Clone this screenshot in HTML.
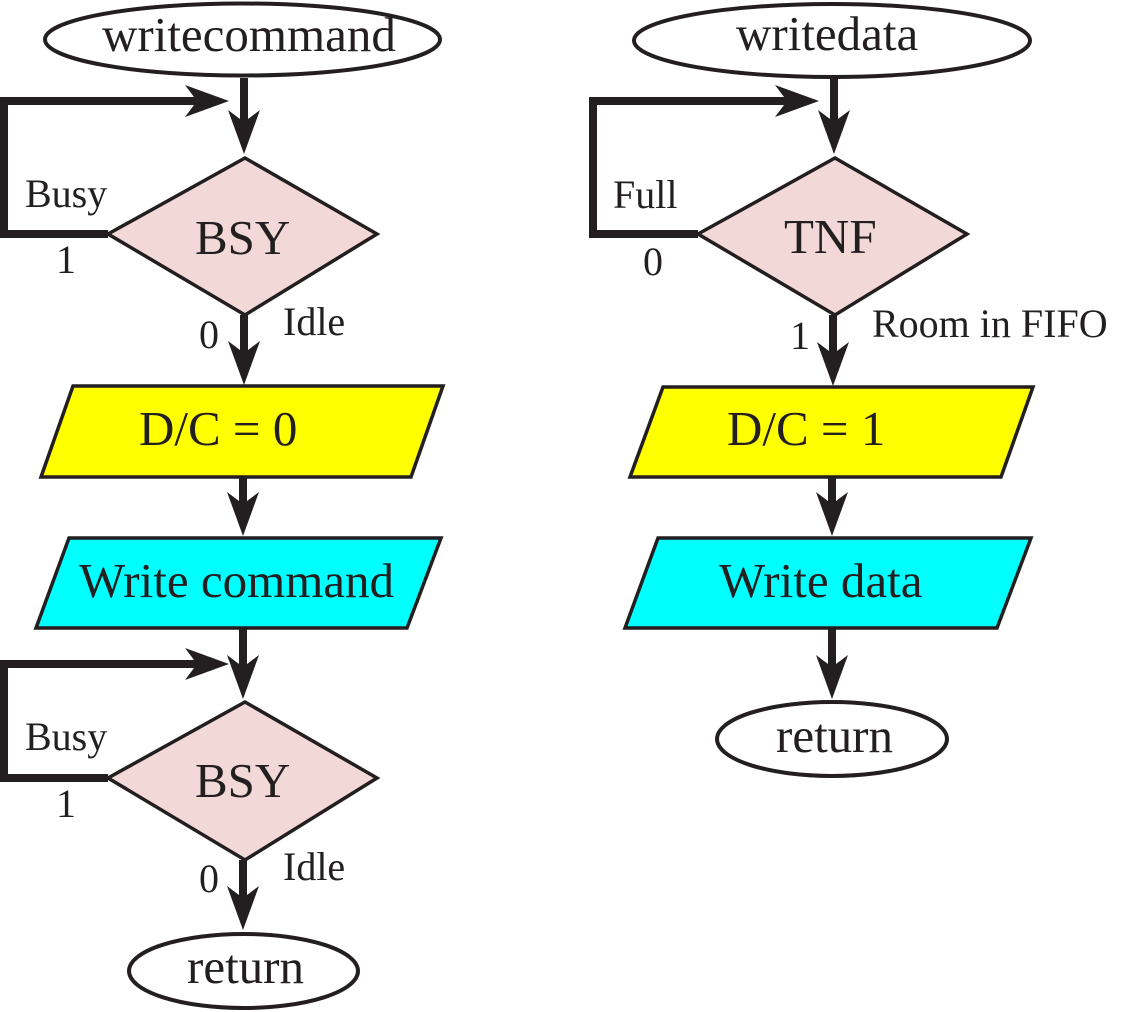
<!DOCTYPE html>
<html>
<head>
<meta charset="utf-8">
<style>
html,body{margin:0;padding:0;background:#fff;}
svg{display:block;}
text{font-family:"Liberation Serif",serif;fill:#231f20;}
.m{font-size:49px;}
.s{font-size:40px;}
</style>
</head>
<body>
<svg width="1146" height="1012" viewBox="0 0 1146 1012" xmlns="http://www.w3.org/2000/svg">
<g stroke="#231f20" stroke-linejoin="miter">
  <!-- LEFT COLUMN -->
  <ellipse cx="242.5" cy="39.5" rx="197.5" ry="36" fill="#fff" stroke-width="4"/>
  <!-- loop 1 -->
  <polyline points="108,234 4,234 4,101 197,101" fill="none" stroke-width="8"/>
  <!-- vertical arrow 1 -->
  <line x1="244" y1="78" x2="244" y2="124" stroke-width="8"/>
  <!-- diamond 1 -->
  <polygon points="245,158 377,234 245,315 108,234" fill="#f3d8d8" stroke-width="3.5"/>
  <!-- arrow 2 -->
  <line x1="244" y1="315" x2="244" y2="355" stroke-width="8"/>
  <!-- D/C=0 -->
  <polygon points="73,386 443,386 411,477 41,477" fill="#ffff00" stroke-width="3.5"/>
  <!-- arrow 3 -->
  <line x1="243" y1="477" x2="243" y2="505" stroke-width="8"/>
  <!-- Write command -->
  <polygon points="69,538 441,538 407,628 36,628" fill="#00ffff" stroke-width="3.5"/>
  <!-- loop 2 -->
  <polyline points="108,778 4,778 4,664 197,664" fill="none" stroke-width="8"/>
  <!-- arrow 4 -->
  <line x1="243" y1="628" x2="243" y2="668" stroke-width="8"/>
  <!-- diamond 2 -->
  <polygon points="245,702 377,778 245,860 108,778" fill="#f3d8d8" stroke-width="3.5"/>
  <!-- arrow 5 -->
  <line x1="243" y1="860" x2="243" y2="900" stroke-width="8"/>
  <!-- return -->
  <ellipse cx="243.5" cy="971" rx="114.5" ry="37" fill="#fff" stroke-width="4"/>

  <!-- RIGHT COLUMN -->
  <ellipse cx="832" cy="40.5" rx="198" ry="36.5" fill="#fff" stroke-width="4"/>
  <polyline points="698,234 593,234 593,101 787,101" fill="none" stroke-width="8"/>
  <line x1="834" y1="78" x2="834" y2="124" stroke-width="8"/>
  <polygon points="835,158 967,234 835,315 698,234" fill="#f3d8d8" stroke-width="3.5"/>
  <line x1="833" y1="315" x2="833" y2="356" stroke-width="8"/>
  <polygon points="663,387 1033,387 1001,477 630,477" fill="#ffff00" stroke-width="3.5"/>
  <line x1="832" y1="477" x2="832" y2="505" stroke-width="8"/>
  <polygon points="658,538 1031,538 997,628 625,628" fill="#00ffff" stroke-width="3.5"/>
  <line x1="832" y1="628" x2="832" y2="668" stroke-width="8"/>
  <ellipse cx="832" cy="739" rx="115" ry="37" fill="#fff" stroke-width="4"/>
</g>

<!-- arrowheads -->
<g fill="#231f20" stroke="none">
  <!-- left vertical -->
  <polygon points="244,154 260,110 244,122 228,110"/>
  <polygon points="244,385 260,341 244,353 228,341"/>
  <polygon points="243,536 259,492 243,504 227,492"/>
  <polygon points="243,699 259,655 243,667 227,655"/>
  <polygon points="243,930 259,886 243,898 227,886"/>
  <!-- left horizontal -->
  <polygon points="229,101 185,85 197,101 185,117"/>
  <polygon points="229,664 185,648 197,664 185,680"/>
  <!-- right vertical -->
  <polygon points="834,154 850,110 834,122 818,110"/>
  <polygon points="833,386 849,342 833,354 817,342"/>
  <polygon points="832,536 848,492 832,504 816,492"/>
  <polygon points="832,699 848,655 832,667 816,655"/>
  <!-- right horizontal -->
  <polygon points="819,101 775,85 787,101 775,117"/>
</g>

<!-- TEXT LEFT -->
<text class="m" x="102" y="51">writecommand</text>
<text class="m" x="195" y="254">BSY</text>
<text class="s" x="25" y="207">Busy</text>
<text class="s" x="56" y="273">1</text>
<text class="s" x="199" y="348">0</text>
<text class="s" x="283" y="335">Idle</text>
<text class="m" x="139" y="445">D/C = 0</text>
<text class="m" x="79" y="597">Write command</text>
<text class="m" x="195" y="797">BSY</text>
<text class="s" x="25" y="750">Busy</text>
<text class="s" x="56" y="817">1</text>
<text class="s" x="199" y="892">0</text>
<text class="s" x="283" y="880">Idle</text>
<text class="m" x="187" y="983">return</text>

<!-- TEXT RIGHT -->
<text class="m" x="736" y="50">writedata</text>
<text class="m" x="784" y="253">TNF</text>
<text class="s" x="613" y="208">Full</text>
<text class="s" x="643" y="275">0</text>
<text class="s" x="790" y="349">1</text>
<text class="s" x="872" y="337">Room in FIFO</text>
<text class="m" x="727" y="445">D/C = 1</text>
<text class="m" x="719" y="597">Write data</text>
<text class="m" x="776" y="752">return</text>
</svg>
</body>
</html>
